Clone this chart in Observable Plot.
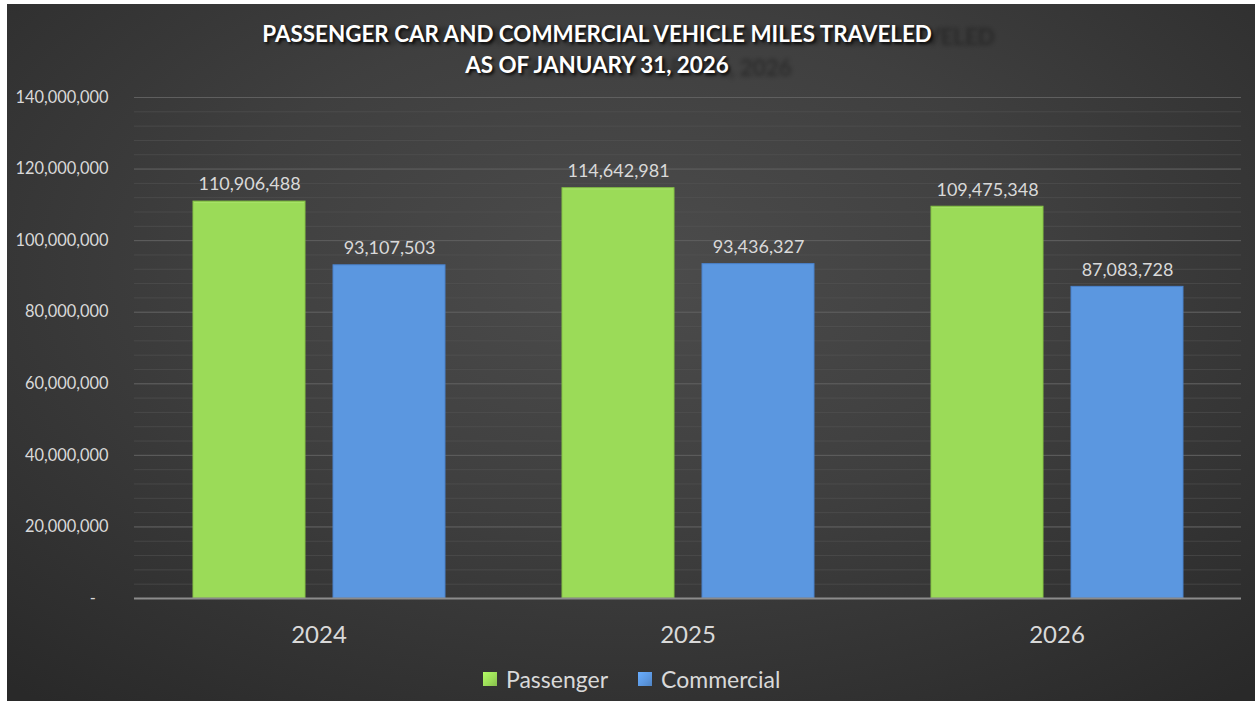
<!DOCTYPE html>
<html>
<head>
<meta charset="utf-8">
<script src="https://cdn.jsdelivr.net/npm/d3@7"></script>
<script src="https://cdn.jsdelivr.net/npm/@observablehq/plot@0.6"></script>
<style>
  html, body { margin: 0; padding: 0; background: #ffffff; }
  #frame {
    position: absolute; left: 7px; top: 4px; width: 1248px; height: 697px;
    background: radial-gradient(ellipse 75% 80% at 50% 38%, #4c4c4c 0%, #3f3f3f 45%, #292929 100%);
    font-family: Lato, "Open Sans", sans-serif; overflow: hidden;
  }
  #title {
    position: absolute; left: 0; width: 1180px; top: 14px; text-align: center;
    color: #ffffff; font-weight: bold; font-size: 22.4px; line-height: 31px;
    text-shadow: 2px 2px 3px rgba(0,0,0,0.85), 63px 3px 4px rgba(0,0,0,0.3);
  }
  #chart { position: absolute; left: 0; top: 76px; }
  #chart svg text { white-space: pre; }
  #legend {
    position: absolute; left: 476px; top: 661px; display: flex; align-items: center;
    color: #d9d9d9; font-size: 23px;
  }
  .sw { display: inline-block; width: 14px; height: 14px; margin-right: 9px; }
  .item { display: flex; align-items: center; margin-right: 30px; }
</style>
</head>
<body>
<div id="frame">
  <div id="title">PASSENGER CAR AND COMMERCIAL VEHICLE MILES TRAVELED<br>AS OF JANUARY 31, 2026</div>
  <div id="chart"></div>
  <div id="legend"></div>
</div>
<script>
const years = ["2024", "2025", "2026"];
const seriesNames = ["Passenger", "Commercial"];
const passenger = [110906488, 114642981, 109475348];
const commercial = [93107503, 93436327, 87083728];
const yTicks = [0, 20000000, 40000000, 60000000, 80000000, 100000000, 120000000, 140000000];
const seriesColors = ["#9bdb58", "#5b97e0"];

const data = years.flatMap((yr, i) => [
  {year: yr, series: "Passenger", value: passenger[i]},
  {year: yr, series: "Commercial", value: commercial[i]}
]);
const fmt = d3.format(",");

const chart = Plot.plot({
  width: 1248,
  height: 580,
  marginLeft: 126,
  marginRight: 13,
  marginTop: 17,
  marginBottom: 62,
  style: {background: "transparent", color: "#d9d9d9", fontFamily: "Lato, 'Open Sans', sans-serif"},
  fx: {domain: years, padding: 0, label: null},
  x: {domain: seriesNames, paddingInner: 0.2, paddingOuter: 0.412, axis: null},
  y: {domain: [0, 140000000], label: null},
  color: {domain: seriesNames, range: seriesColors},
  marks: [
    Plot.gridY({interval: 4000000, stroke: "#555555", strokeOpacity: 0.55}),
    Plot.gridY(yTicks, {stroke: "#5f5f5f", strokeOpacity: 1}),
    Plot.barY(data, {fx: "year", x: "series", y: "value", fill: "series", stroke: d => d.series === "Passenger" ? "#86c445" : "#4a82cc", strokeWidth: 1}),
    Plot.barY(data, {fx: "year", x: "series", y1: d => d.value * 0.994, y2: "value", fill: d => d.series === "Passenger" ? "#b8ec80" : "#86b6ee", inset: 1}),
    Plot.ruleY([0], {stroke: "#8c8c8c", strokeWidth: 2}),
    Plot.text(data, {fx: "year", x: "series", y: "value", text: d => fmt(d.value), dy: -17, fontSize: 18, fill: "#d9d9d9"}),
    Plot.axisY({ticks: yTicks, tickSize: 0, tickPadding: 26, fontSize: 16.4, label: null,
      tickFormat: d => d === 0 ? "-   " : fmt(d)}),
    Plot.axisFx({anchor: "bottom", tickSize: 0, tickPadding: 27, fontSize: 24, label: null})
  ]
});
document.getElementById("chart").appendChild(chart);

const legend = document.getElementById("legend");
seriesNames.forEach((s, i) => {
  const it = document.createElement("div");
  it.className = "item";
  const sw = document.createElement("span");
  sw.className = "sw";
  sw.style.background = `linear-gradient(135deg, ${d3.color(seriesColors[i]).brighter(0.4)}, ${seriesColors[i]} 60%, ${d3.color(seriesColors[i]).darker(0.4)})`;
  it.appendChild(sw);
  it.appendChild(document.createTextNode(s));
  legend.appendChild(it);
});
</script>
</body>
</html>
